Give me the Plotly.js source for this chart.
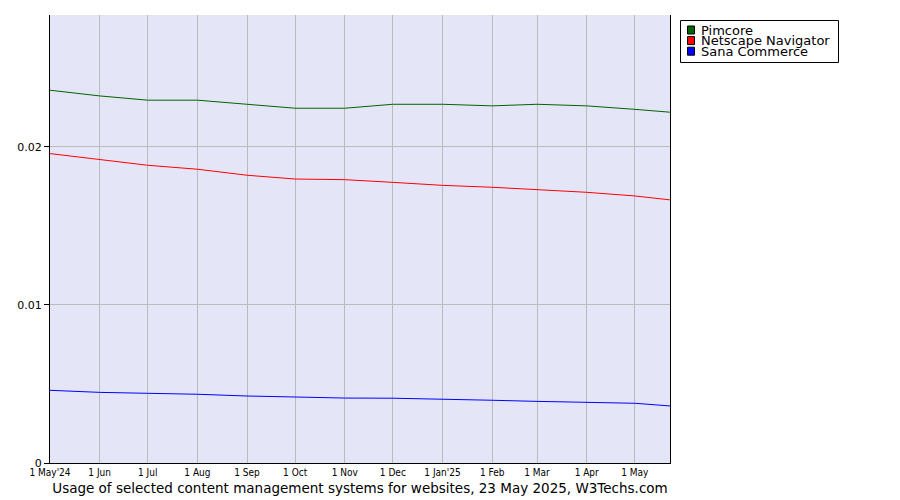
<!DOCTYPE html>
<html>
<head>
<meta charset="utf-8">
<script src="https://cdn.plot.ly/plotly-3.0.1.min.js"></script>
<style>body{margin:0;background:#fff}#chart{width:900px;height:500px}</style>
</head>
<body>
<div id="chart"></div>
<script>
const dates = ['2024-05-01','2024-06-01','2024-07-01','2024-08-01','2024-09-01','2024-10-01','2024-11-01','2024-12-01','2025-01-01','2025-02-01','2025-03-01','2025-04-01','2025-05-01','2025-05-23'];
const seriesNames = ['Pimcore','Netscape Navigator','Sana Commerce'];
const seriesColors = ['#006400','#ff0000','#0000ff'];
const pimcore = [0.02359,0.02323,0.02296,0.02296,0.0227,0.02245,0.02245,0.0227,0.0227,0.0226,0.0227,0.0226,0.02238,0.0222];
const netscape = [0.01958,0.01922,0.01884,0.01859,0.01821,0.01797,0.01793,0.01776,0.01757,0.01745,0.01728,0.01713,0.0169,0.01665];
const sana = [0.0046,0.00447,0.00441,0.00435,0.00424,0.00418,0.00411,0.0041,0.00405,0.00397,0.0039,0.00384,0.00378,0.00361];
const tickDates = ['2024-05-01','2024-06-01','2024-07-01','2024-08-01','2024-09-01','2024-10-01','2024-11-01','2024-12-01','2025-01-01','2025-02-01','2025-03-01','2025-04-01','2025-05-01'];
const tickLabels = ["1 May'24",'1 Jun','1 Jul','1 Aug','1 Sep','1 Oct','1 Nov','1 Dec',"1 Jan'25",'1 Feb','1 Mar','1 Apr','1 May'];
const yTicks = [0,0.01,0.02];
const yTickLabels = ['0','0.01','0.02'];
const titleText = 'Usage of selected content management systems for websites, 23 May 2025, W3Techs.com';

const values = [pimcore, netscape, sana];
const traces = values.map((v,i)=>({
  x: dates, y: v, type:'scatter', mode:'lines', name: seriesNames[i],
  line:{color: seriesColors[i], width:1}, showlegend:false, hoverinfo:'skip'
}));

// legend drawn manually (compact)
const L = 50, W = 620, B = 463, H = 448;
const px = p => (p - L) / W;
const py = p => (B - p) / H;
const shapes = [{type:'rect', xref:'paper', yref:'paper', x0:px(680.5), x1:px(838.5), y0:py(62.5), y1:py(20.5), line:{color:'#000', width:1}, fillcolor:'#fff'}];
const annotations = [];
seriesNames.forEach((n,i)=>{
  const cy = 30 + i*10.6;
  shapes.push({type:'rect', xref:'paper', yref:'paper', x0:px(687.5), x1:px(694.5), y0:py(cy+4), y1:py(cy-4), line:{color:'#000', width:1}, fillcolor:seriesColors[i]});
  annotations.push({xref:'paper', yref:'paper', x:px(699), y:py(cy), xanchor:'left', yanchor:'middle', text:n, showarrow:false, font:{family:'DejaVu Sans', size:13, color:'#000'}});
});

const layout = {
  width:900, height:500,
  margin:{l:50, r:230, t:15, b:37},
  paper_bgcolor:'#ffffff', plot_bgcolor:'#e4e6f8',
  showlegend:false,
  font:{family:'DejaVu Sans', color:'#000'},
  title:{text:titleText, font:{family:'DejaVu Sans', size:13.5, color:'#000'}, x:360/900, xanchor:'center', xref:'container', y:1-488/500, yanchor:'middle', yref:'container'},
  xaxis:{type:'date', range:['2024-05-01','2025-05-23'], tickvals:tickDates, ticktext:tickLabels, tickfont:{size:10, family:'DejaVu Sans Condensed, DejaVu Sans'}, showgrid:true, gridcolor:'#bbbbbb', gridwidth:1, showline:true, linecolor:'#000', linewidth:1, ticks:'', zeroline:false, fixedrange:true},
  yaxis:{range:[0,0.02835], tickvals:yTicks, ticktext:yTickLabels, tickfont:{size:11, family:'DejaVu Sans'}, showgrid:true, gridcolor:'#bbbbbb', gridwidth:1, showline:true, mirror:true, linecolor:'#000', linewidth:1, ticks:'outside', ticklen:5, tickcolor:'#000', zeroline:false, fixedrange:true},
  shapes: shapes,
  annotations: annotations
};
Plotly.newPlot('chart', traces, layout, {displayModeBar:false, staticPlot:true});
</script>
</body>
</html>
